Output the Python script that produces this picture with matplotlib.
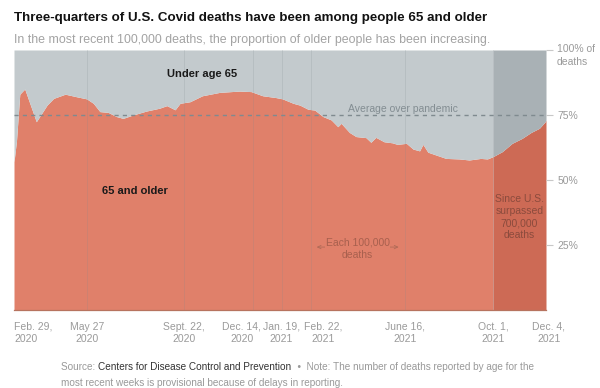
import matplotlib
matplotlib.use("Agg")
import matplotlib.pyplot as plt
import pandas as pd

plt.rcParams["font.family"] = ["Liberation Sans", "DejaVu Sans"]

# weekly share of deaths among people 65 and older (percent)
dates = pd.to_datetime([
    "2020-02-29", "2020-03-03", "2020-03-07", "2020-03-13", "2020-03-27",
    "2020-04-09", "2020-04-17", "2020-05-01", "2020-05-15", "2020-05-27",
    "2020-06-04", "2020-06-12", "2020-06-22", "2020-07-02", "2020-07-10",
    "2020-07-22", "2020-08-07", "2020-08-23", "2020-09-01", "2020-09-11",
    "2020-09-17", "2020-09-29", "2020-10-14", "2020-11-04", "2020-11-28",
    "2020-12-12", "2020-12-26", "2021-01-11", "2021-01-19", "2021-02-01",
    "2021-02-09", "2021-02-19", "2021-02-27", "2021-03-09", "2021-03-19",
    "2021-03-27", "2021-03-31", "2021-04-10", "2021-04-18", "2021-04-30",
    "2021-05-06", "2021-05-12", "2021-05-22", "2021-06-01", "2021-06-07",
    "2021-06-18", "2021-06-26", "2021-07-04", "2021-07-08", "2021-07-14",
    "2021-07-24", "2021-08-05", "2021-08-21", "2021-09-02", "2021-09-16",
    "2021-09-24", "2021-10-01", "2021-10-12", "2021-10-24", "2021-11-05",
    "2021-11-16", "2021-11-26", "2021-12-03", "2021-12-04",
])
older = [
    57, 65, 83, 85, 72.4,
    78.8, 81.4, 83, 82, 81.2,
    79.5, 76.3, 76, 74.4, 73.7,
    75, 76.5, 77.6, 78.6, 77,
    79.5, 80.1, 82.4, 83.7, 84.2,
    84, 82.4, 81.7, 81.2, 79.5,
    78.8, 77.2, 76.9, 74.4, 73.1,
    70.5, 71.8, 68.3, 66.7, 66.3,
    64.5, 66.4, 64.7, 64.3, 63.7,
    64.1, 61.9, 61.2, 63.7, 60.7,
    59.6, 58.3, 58.1, 57.7, 58.3,
    58.1, 59.0, 60.9, 64.1, 66,
    68.3, 69.9, 72.4, 73,
]
average = 75

tick_dates = pd.to_datetime(["2020-02-29", "2020-05-27", "2020-09-22", "2020-12-14",
                             "2021-01-19", "2021-02-22", "2021-06-16", "2021-10-01",
                             "2021-12-04"])
tick_labels = ["Feb. 29,\n2020", "May 27\n2020", "Sept. 22,\n2020", "Dec. 14,\n2020",
               "Jan. 19,\n2021", "Feb. 22,\n2021", "June 16,\n2021", "Oct. 1,\n2021",
               "Dec. 4,\n2021"]
# crowded labels are nudged sideways (in pixels)
label_nudge = [0, 0, 0, -11, -1, 13, 0, 0, 3]
shade_start = pd.Timestamp("2021-10-01")
start, end = tick_dates[0], tick_dates[-1]

coral, coral_dark = "#e0806a", "#cd6a55"
grey, grey_dark = "#c3cacd", "#a9b1b5"

fig = plt.figure(figsize=(6, 3.88), dpi=100)
ax = fig.add_axes([14 / 600, 1 - 310 / 388, 532 / 600, 260 / 388])

before = dates <= shade_start
after = dates >= shade_start
ax.fill_between(dates, older, 0, where=before, color=coral, lw=0)
ax.fill_between(dates, older, 100, where=before, color=grey, lw=0)
ax.fill_between(dates, older, 0, where=after, color=coral_dark, lw=0)
ax.fill_between(dates, older, 100, where=after, color=grey_dark, lw=0)

for d in tick_dates[1:-1]:
    ax.axvline(d, color="#7f8a90", lw=0.6, alpha=0.22, zorder=2)

ax.axhline(average, color="#7f8a8f", lw=1, ls=(0, (3, 3)), zorder=3)

ax.set_xlim(start, end)
ax.set_ylim(0, 100)
for s in ["top", "left", "right"]:
    ax.spines[s].set_visible(False)
ax.spines["bottom"].set_color("#b7735f")
ax.spines["bottom"].set_linewidth(0.9)

ax.set_xticks([])
for i, (d, lab) in enumerate(zip(tick_dates, tick_labels)):
    ax.annotate(lab, xy=(d, 0), xycoords=("data", "axes fraction"),
                xytext=(label_nudge[i] * 0.72, -8.5), textcoords="offset points",
                ha="left" if i == 0 else "center", va="top", fontsize=7.5,
                color="#9a9a9a", linespacing=1.3)

ax.yaxis.tick_right()
ax.set_yticks([25, 50, 75, 100])
ax.set_yticklabels(["25%", "50%", "75%", ""])
ax.tick_params(axis="y", length=5, width=0.8, color="#c8c8c8", pad=3,
               labelsize=7.5, labelcolor="#9a9a9a")
ax.annotate("100% of\ndeaths", xy=(1, 100), xycoords=("axes fraction", "data"),
            xytext=(8, 4), textcoords="offset points", va="top", ha="left",
            fontsize=7.5, color="#9a9a9a", linespacing=1.3)

ax.text(pd.Timestamp("2020-10-14"), 90.8, "Under age 65", ha="center", va="center",
        fontsize=8, fontweight="bold", color="#1a1a1a")
ax.text(pd.Timestamp("2020-07-24"), 45.8, "65 and older", ha="center", va="center",
        fontsize=8, fontweight="bold", color="#1a1a1a")
ax.text(pd.Timestamp("2021-06-14"), 75.4, "Average over pandemic", ha="center",
        va="bottom", fontsize=7.5, color="#838d92")
ax.text(shade_start + (end - shade_start) / 2, 35.6,
        "Since U.S.\nsurpassed\n700,000\ndeaths", ha="center", va="center",
        fontsize=7.5, color="#8b4b3d", linespacing=1.25)
ax.annotate("", xy=(pd.Timestamp("2021-02-26"), 24.2),
            xytext=(pd.Timestamp("2021-06-12"), 24.2),
            arrowprops=dict(arrowstyle="<->,head_length=0.25,head_width=0.12",
                            color="#b06a57", lw=0.6))
ax.text(pd.Timestamp("2021-04-20"), 23.6, "Each 100,000\ndeaths", ha="center",
        va="center", fontsize=7.5, color="#a8604e", linespacing=1.25,
        bbox=dict(facecolor=coral, edgecolor="none", pad=0.5))

fig.text(14 / 600, 1 - 18.5 / 388, "Three-quarters of U.S. Covid deaths have been among people 65 and older",
         fontsize=9.6, fontweight="bold", color="#121212", va="center")
fig.text(14 / 600, 1 - 40 / 388, "In the most recent 100,000 deaths, the proportion of older people has been increasing.",
         fontsize=8.9, color="#a3a3a3", va="center")

# footer with a darker source name
fig.canvas.draw()
r = fig.canvas.get_renderer()
x0, y1, y2 = 61.5, 1 - 367.5 / 388, 1 - 383 / 388
parts = [("Source: ", "#999999"), ("Centers for Disease Control and Prevention", "#333333"),
         ("  \u2022  Note: The number of deaths reported by age for the", "#999999")]
x = x0
for s, c in parts:
    t = fig.text(x / 600, y1, s, fontsize=7.2, color=c, va="center")
    x += t.get_window_extent(r).width
fig.text(x0 / 600, y2, "most recent weeks is provisional because of delays in reporting.",
         fontsize=7.2, color="#999999", va="center")

fig.savefig("out.png", dpi=100)
